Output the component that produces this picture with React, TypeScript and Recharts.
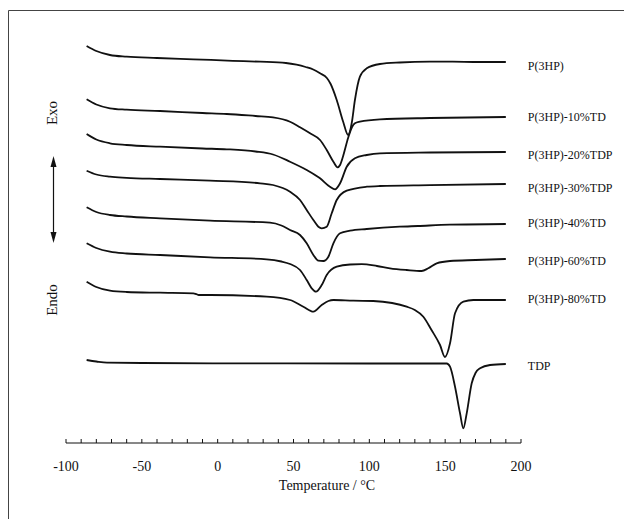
import { Line, LineChart, XAxis, YAxis } from 'recharts'

// DSC heating traces, temperature in °C vs heat flow (a.u., endo down)
const NAMES = [
  'P(3HP)',
  'P(3HP)-10%TD',
  'P(3HP)-20%TDP',
  'P(3HP)-30%TDP',
  'P(3HP)-40%TD',
  'P(3HP)-60%TD',
  'P(3HP)-80%TD',
  'TDP',
]

// vertical shift of each trace in the stacked plot
const OFFSETS = [381, 326, 291, 259, 219, 184, 143, 79]

const P3HP: [number, number][] = [
  [-86.4, 16], [-80, 11], [-71, 7], [-60, 5.3], [-40, 4], [-16, 2.7], [10, 1.2], [28, 0.3],
  [45, -1], [52, -2.7], [58, -5], [63, -7.5], [67.5, -11.3], [72, -16], [74.5, -22],
  [78.5, -38], [82.8, -60], [86, -73], [88.4, -61], [90.5, -38], [93.8, -14.7], [98.3, -6.3],
  [107, -2], [120, -0.5], [140, 0.3], [155, 0.3], [170, 0], [190, 0],
]
const TD10: [number, number][] = [
  [-86.4, 17.7], [-80, 12.5], [-71, 8.7], [-60, 7.3], [-38, 6], [-10, 4], [6, 3], [25, 1],
  [36.5, -0.3], [47.7, -4.7], [54.3, -10.3], [60.9, -16.3], [67.5, -23], [71.9, -33],
  [76.3, -44.7], [79.1, -50.3], [80.7, -48], [82.6, -39.7], [86, -21], [88.6, -10],
  [90.5, -6.3], [93.8, -4.7], [107, -2.3], [140, -1], [190, 0],
]
const TDP20: [number, number][] = [
  [-86.4, 18], [-80, 12.5], [-71, 8.7], [-60, 7], [-38, 5.3], [-10, 3.5], [6, 2.7], [25, 0.5],
  [36.5, -2.5], [47.7, -9.7], [58.7, -18], [67.5, -26.3], [74, -34.7], [77.4, -37.3],
  [80.7, -31.3], [85.1, -14.7], [90.5, -6.3], [98.3, -3], [107, -1.3], [140, -0.5], [190, 0],
]
const TDP30: [number, number][] = [
  [-86.4, 13.3], [-80, 9.5], [-71, 7.3], [-60, 6.2], [-38, 5], [-5, 3.3], [28, 0.7],
  [36.5, -1], [47.7, -7.7], [54.3, -16], [58.7, -26], [63.1, -36], [66.4, -42.7],
  [68.6, -44.3], [71.9, -42.7], [75.2, -29.3], [78.5, -16], [85.1, -6.7], [98.3, -2.7],
  [107, -2], [140, -1.2], [190, 0],
]
const TD40: [number, number][] = [
  [-86.4, 16.7], [-80, 12], [-71, 9], [-60, 7.5], [-38, 5.7], [-5, 3.3], [34.5, 1.3],
  [42, -1.5], [47.7, -6], [54.3, -11], [58.7, -19.3], [63.1, -31], [66.4, -36.7],
  [69.7, -37], [73, -32.7], [76.3, -19.3], [80.7, -9.3], [87.3, -6.7], [98.3, -5],
  [120, -2.7], [132, -2], [153, -0.7], [190, 0],
]
const TD60: [number, number][] = [
  [-86.4, 15.7], [-80, 11], [-71, 7.3], [-60, 5.5], [-38, 4], [-5, 1.7], [32.3, -0.3],
  [42, -2.5], [47.7, -5], [54.3, -11], [58.7, -21], [62, -29.3], [64.8, -32.7], [68.6, -26],
  [71.9, -16], [78.5, -7.7], [87.3, -5.5], [95, -5.2], [105, -7], [113.6, -9.3],
  [124.6, -11], [134.5, -12], [138.9, -9.3], [144.4, -4.3], [153.2, -2], [170, -1], [190, 0],
]
const TD80: [number, number][] = [
  [-86.4, 18.3], [-80, 13], [-71, 9.3], [-60, 8], [-38, 7.3], [-16, 6.7], [-14, 5.8],
  [-12.5, 5], [-5, 5], [32.3, 3.3], [47.7, 0], [56.5, -6.7], [63.1, -11.7], [68.6, -5],
  [73, -1], [76.3, 0], [89.4, -0.7], [102.6, -1], [115, -3], [124.6, -6.7], [130, -10],
  [135.6, -16.7], [141, -30], [146.6, -45], [149.9, -57], [153.2, -43.3], [156.5, -13.3],
  [162, -1.7], [168.6, 0], [190, 0],
]
const TDP: [number, number][] = [
  [-86.4, 4], [-80, 2.5], [-73, 1.3], [-50, 1], [0, 0.7], [100, 0.5], [151, 0.5],
  [153.2, -2.7], [156.5, -22.7], [159.8, -49.3], [162, -64.3], [164.2, -49.3],
  [167.5, -19.3], [170, -9], [173, -4.3], [179.6, -1], [190, 0],
]

const SERIES = [P3HP, TD10, TDP20, TDP30, TD40, TD60, TD80, TDP]

const TICKS = [
  -100, -90, -80, -70, -60, -50, -40, -30, -20, -10, 0, 10, 20, 30, 40, 50, 60, 70, 80, 90,
  100, 110, 120, 130, 140, 150, 160, 170, 180, 190, 200,
]
const TICK_LABELS = [-100, -50, 0, 50, 100, 150, 200]

const LABEL_NUDGE = [4, 0, 3, 4, -1, 2, -1, 2]

const FONT = '"Liberation Serif", "Times New Roman", serif'
const INK = '#111'

function AxisTick({ x, y, payload }: any) {
  const v = payload.value
  return (
    <g>
      <line x1={x} x2={x} y1={y} y2={y - 4} stroke={INK} strokeWidth={1} />
      {TICK_LABELS.includes(v) && (
        <text x={x} y={y + 28} textAnchor="middle" fontSize={14} fontFamily={FONT} fill={INK}>
          {v}
        </text>
      )}
    </g>
  )
}

export default function App() {
  const tables = SERIES.map((s, i) => s.map(([t, hf]) => ({ t, v: OFFSETS[i] + hf })))

  return (
    <div style={{ position: 'absolute', left: 0, top: 0, width: 624, height: 519, background: '#fff' }}>
      <LineChart
        width={624}
        height={519}
        margin={{ top: 20, right: 103, left: 66, bottom: 46 }}
      >
        <XAxis
          dataKey="t"
          type="number"
          domain={[-100, 200]}
          ticks={TICKS}
          interval={0}
          height={30}
          tickSize={0}
          tickMargin={0}
          tickLine={false}
          axisLine={{ stroke: INK, strokeWidth: 1 }}
          tick={<AxisTick />}
          allowDataOverflow
        />
        <YAxis type="number" domain={[0, 423]} hide width={0} allowDataOverflow />
        {tables.map((rows, i) => (
          <Line
            key={NAMES[i]}
            data={rows}
            dataKey="v"
            type="monotone"
            stroke={INK}
            strokeWidth={1.8}
            dot={false}
            activeDot={false}
            isAnimationActive={false}
            label={(p: any) =>
              p.index === rows.length - 1 ? (
                <text
                  x={p.x + 22}
                  y={p.y + LABEL_NUDGE[i] + 4}
                  fontSize={12}
                  fontFamily={FONT}
                  fill={INK}
                >
                  {NAMES[i]}
                </text>
              ) : (
                <g />
              )
            }
          />
        ))}
      </LineChart>

      <svg
        width={624}
        height={519}
        style={{ position: 'absolute', left: 0, top: 0, pointerEvents: 'none' }}
      >
        <line x1={8.5} y1={10.5} x2={624} y2={10.5} stroke="#444" />
        <line x1={8.5} y1={10.5} x2={8.5} y2={519} stroke="#444" />
        <text
          x={52}
          y={113}
          transform="rotate(-90 52 113)"
          textAnchor="middle"
          dominantBaseline="central"
          fontSize={15}
          fontFamily={FONT}
          fill={INK}
        >
          Exo
        </text>
        <text
          x={52}
          y={300}
          transform="rotate(-90 52 300)"
          textAnchor="middle"
          dominantBaseline="central"
          fontSize={15}
          fontFamily={FONT}
          fill={INK}
        >
          Endo
        </text>
        <line x1={53.5} y1={162} x2={53.5} y2={237} stroke={INK} strokeWidth={1.2} />
        <polygon points="53.5,156 50.5,167 56.5,167" fill={INK} />
        <polygon points="53.5,243 50.5,232 56.5,232" fill={INK} />
        <text x={327} y={490} textAnchor="middle" fontSize={14} fontFamily={FONT} fill={INK}>
          Temperature / °C
        </text>
      </svg>
    </div>
  )
}
